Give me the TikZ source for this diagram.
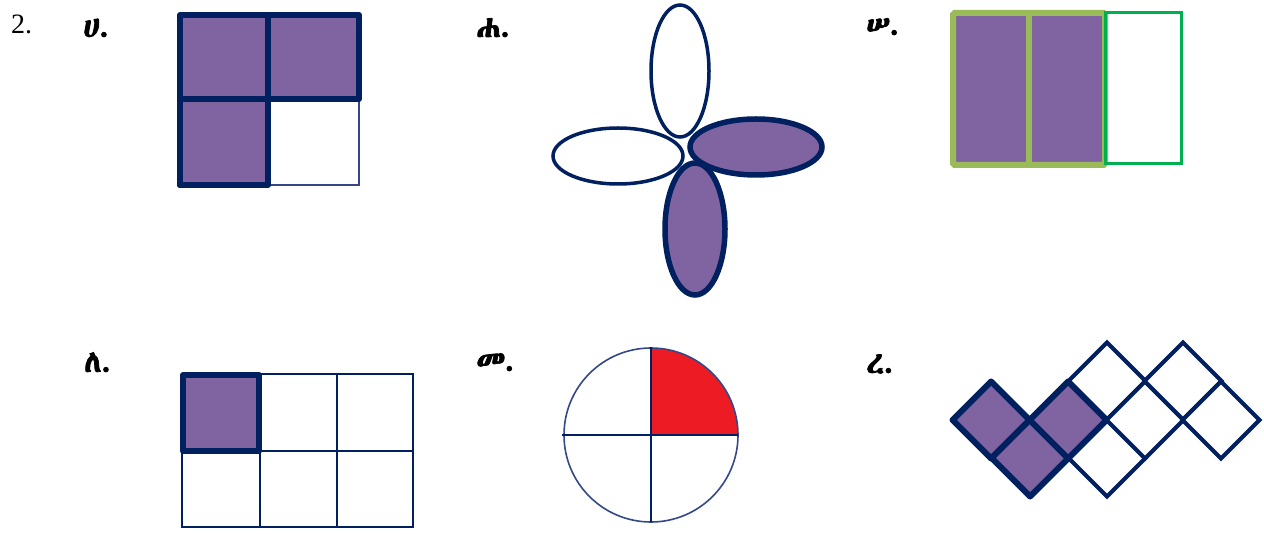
\documentclass[tikz,border=0pt]{standalone}
\usepackage{fontspec}
\setmainfont{Liberation Serif}
\IfFontExistsTF{Abyssinica SIL}
  {\newfontfamily\ethi{Abyssinica SIL}[FakeBold=2.5]}
  {\IfFontExistsTF{FreeSerif}
     {\newfontfamily\ethi{FreeSerif}[FakeBold=2.5]}
     {\newfontfamily\ethi{DejaVu Sans}}}
\definecolor{navy}{RGB}{0,32,96}
\definecolor{navyl}{RGB}{52,72,135}
\definecolor{purp}{RGB}{128,100,162}
\definecolor{lgreen}{RGB}{155,187,89}
\definecolor{dgreen}{RGB}{0,176,80}
\definecolor{qred}{RGB}{237,28,36}
\tikzset{
  lbl/.style={anchor=base west, inner sep=0pt, font=\ethi\fontsize{31}{34}\selectfont},
  num/.style={anchor=base west, inner sep=0pt, font=\fontsize{28}{32}\selectfont},
  thickcell/.style={draw=navy, line width=6pt, line join=round, line cap=round},
  thincell/.style={draw=navy, line width=2pt},
  petal/.style={draw=navy, line width=3.5pt},
  petalp/.style={draw=navy, fill=purp, line width=5.5pt},
  dia/.style={draw=navy, line width=4pt, line join=miter},
  diap/.style={draw=navy, fill=purp, line width=6pt, line join=round}
}
\begin{document}
\begin{tikzpicture}[x=1pt,y=-1pt]
\useasboundingbox[fill=white] (0,0) rectangle (1264,534);
% labels
\node[num] (n2) at (11,34) {2.};
\node[lbl] (la) at (83,37) {ሀ.};
\node[lbl] (lb) at (476,37) {ሐ.};
\node[lbl] (lc) at (866,35) {ሠ.};
\node[lbl] (ld) at (84,372) {ለ.};
\node[lbl] (le) at (476,371) {መ.};
\node[lbl] (lf) at (866,373) {ረ.};
% panel A
\fill[purp] (180,15) rectangle (359,99);
\fill[purp] (180,99) rectangle (268,185);
\draw[draw=navyl, line width=2pt] (268,99) rectangle (359,185);
\draw[thickcell] (180,185) -- (180,15) -- (359,15) -- (359,99) -- (180,99);
\draw[thickcell] (268,15) -- (268,185) -- (180,185);
% panel B
\draw[petal, fill=white] (680,71) ellipse (29 and 66);
\draw[petal, fill=white] (618,156) ellipse (65 and 28);
\draw[petalp] (695,229) ellipse (30 and 66);
\draw[petalp] (756,147) ellipse (66 and 28);
% panel C
\draw[fill=purp, draw=lgreen, line width=6pt, rounded corners=1.5pt] (953,13) rectangle (1105,165);
\draw[draw=lgreen, line width=6pt] (1029,13) -- (1029,165);
\draw[draw=dgreen, line width=3pt] (1105,13) rectangle (1181,164);
% panel D
\foreach \x in {182,260,337,413} \draw[thincell] (\x,373) -- (\x,528);
\foreach \y in {374,451,527} \draw[thincell] (182,\y) -- (413,\y);
\draw[thickcell, fill=purp] (183,375) rectangle (259,451);
% panel E
\fill[qred] (651,435) -- (738,435) arc (0:-90:87) -- cycle;
\draw[draw=navyl, line width=1.6pt] (651,435) circle (87);
\draw[draw=navy, line width=1.6pt] (562,435) -- (738,435);
\draw[draw=navy, line width=1.6pt] (651,347) -- (651,522);
% panel F
\def\dd{38.5}
\foreach \cx/\cy in {1107/381,1107/458,1145/420,1183/381,1221/420}
  \draw[dia, fill=white] (\cx-\dd,\cy) -- (\cx,\cy-\dd) -- (\cx+\dd,\cy) -- (\cx,\cy+\dd) -- cycle;
\foreach \cx/\cy in {991/420,1030/458,1068/420}
  \draw[diap] (\cx-\dd,\cy) -- (\cx,\cy-\dd) -- (\cx+\dd,\cy) -- (\cx,\cy+\dd) -- cycle;
\end{tikzpicture}
\end{document}
